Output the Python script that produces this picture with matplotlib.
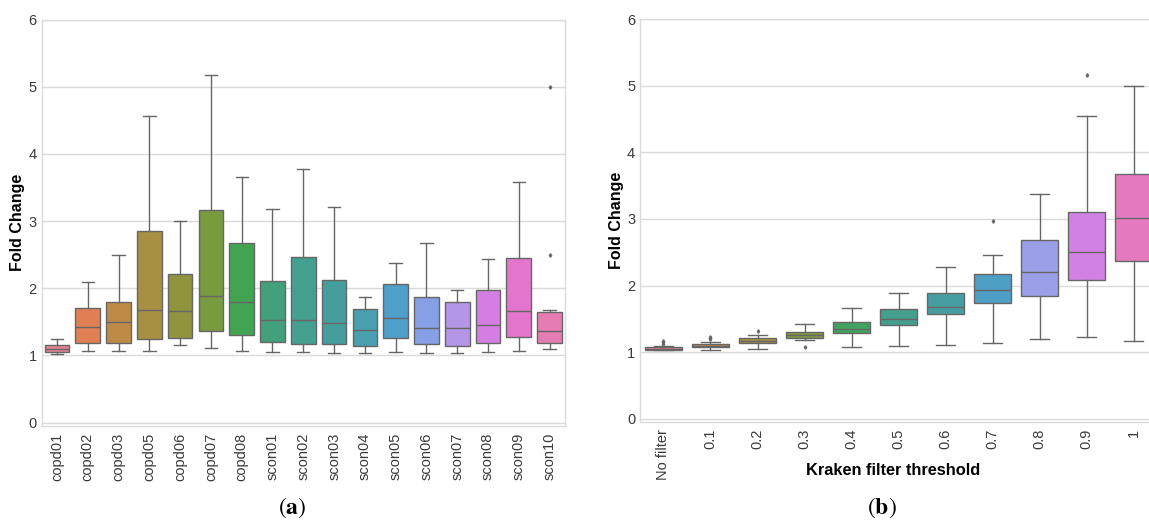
import matplotlib
matplotlib.use("Agg")
import matplotlib.pyplot as plt
import seaborn as sns

# (a) fold change per sample
samples = ["copd01", "copd02", "copd03", "copd05", "copd06", "copd07", "copd08",
           "scon01", "scon02", "scon03", "scon04", "scon05", "scon06", "scon07",
           "scon08", "scon09", "scon10"]
a_low = [1.02, 1.06, 1.06, 1.06, 1.15, 1.11, 1.06, 1.045, 1.045, 1.04, 1.03,
         1.045, 1.04, 1.04, 1.045, 1.06, 1.09]
a_q1 = [1.05, 1.19, 1.19, 1.24, 1.26, 1.36, 1.305, 1.20, 1.17, 1.17, 1.14,
        1.26, 1.17, 1.14, 1.19, 1.27, 1.18]
a_med = [1.09, 1.43, 1.50, 1.67, 1.665, 1.89, 1.79, 1.53, 1.53, 1.48, 1.38,
         1.56, 1.41, 1.41, 1.46, 1.655, 1.37]
a_q3 = [1.15, 1.70, 1.80, 2.85, 2.21, 3.16, 2.68, 2.11, 2.46, 2.12, 1.69,
        2.07, 1.87, 1.79, 1.97, 2.45, 1.645]
a_high = [1.24, 2.09, 2.50, 4.56, 3.00, 5.17, 3.66, 3.18, 3.77, 3.21, 1.87,
          2.37, 2.68, 1.97, 2.44, 3.58, 1.68]
a_out = [[], [], [], [], [], [], [], [], [], [], [], [], [], [], [], [], [5.0, 2.5]]

# (b) fold change per kraken threshold
thresholds = ["No filter", "0.1", "0.2", "0.3", "0.4", "0.5", "0.6", "0.7",
              "0.8", "0.9", "1"]
b_low = [1.025, 1.03, 1.05, 1.18, 1.07, 1.085, 1.11, 1.14, 1.20, 1.23, 1.16]
b_q1 = [1.035, 1.07, 1.13, 1.21, 1.29, 1.41, 1.57, 1.74, 1.84, 2.09, 2.37]
b_med = [1.05, 1.096, 1.167, 1.25, 1.35, 1.50, 1.68, 1.93, 2.21, 2.50, 3.01]
b_q3 = [1.07, 1.126, 1.21, 1.30, 1.45, 1.65, 1.89, 2.18, 2.69, 3.11, 3.67]
b_high = [1.096, 1.157, 1.26, 1.42, 1.67, 1.89, 2.28, 2.46, 3.37, 4.55, 5.00]
b_out = [[1.12, 1.15, 1.17], [1.19, 1.21, 1.23], [1.31], [1.07], [], [], [],
         [2.97], [], [5.16], []]

plt.rcParams["font.family"] = ["Liberation Sans", "DejaVu Sans"]
plt.rcParams["mathtext.fontset"] = "stix"

GRID = "#dadada"
LINE = "#666666"


def make_stats(low, q1, med, q3, high, out):
    return [
        {"whislo": lo, "q1": a, "med": m, "q3": b, "whishi": hi, "fliers": f}
        for lo, a, m, b, hi, f in zip(low, q1, med, q3, high, out)
    ]


def draw_box(ax, labels, stats):
    n = len(labels)
    colors = [sns.desaturate(c, 0.75) for c in sns.husl_palette(n)]
    bp = ax.bxp(
        stats, positions=range(n), widths=0.8, patch_artist=True,
        boxprops=dict(edgecolor=LINE, linewidth=1.0),
        medianprops=dict(color=LINE, linewidth=1.0),
        whiskerprops=dict(color=LINE, linewidth=1.0),
        capprops=dict(color=LINE, linewidth=1.0),
        flierprops=dict(marker="d", markersize=1.8, markerfacecolor=LINE,
                        markeredgecolor=LINE, linestyle="none"),
        capwidths=0.4,
    )
    for patch, c in zip(bp["boxes"], colors):
        patch.set_facecolor(c)
    ax.set_xlim(-0.5, n - 0.5)
    ax.set_ylim(-0.05, 6.0)
    ax.set_yticks(range(7))
    ax.set_xticks(range(n))
    ax.set_xticklabels(labels, rotation=90)
    ax.set_axisbelow(True)
    ax.yaxis.grid(True, color=GRID, linewidth=1.0)
    ax.xaxis.grid(False)
    for s in ax.spines.values():
        s.set_color(GRID)
        s.set_linewidth(1.0)
    ax.tick_params(length=0, labelsize=10.5, labelcolor="#3a3a3a")
    ax.tick_params(axis="y", pad=3.5)
    ax.tick_params(axis="x", pad=5)
    ax.set_ylabel("Fold Change", fontsize=11.5, fontweight="bold")
    ax.yaxis.set_label_coords(-0.031, 0.5)


fig = plt.figure(figsize=(11.49, 5.23), dpi=100)

ax1 = fig.add_axes([0.0362, 0.1855, 0.4555, 0.7772])
draw_box(ax1, samples, make_stats(a_low, a_q1, a_med, a_q3, a_high, a_out))

ax2 = fig.add_axes([0.557, 0.1931, 0.450, 0.770])
draw_box(ax2, thresholds, make_stats(b_low, b_q1, b_med, b_q3, b_high, b_out))
ax2.set_xlabel("Kraken filter threshold", fontsize=11.8, fontweight="bold")
ax2.xaxis.set_label_coords(0.489, -0.102)

fig.text(292 / 1149, 1 - 508 / 523, r"$(\mathbf{a})$", ha="center", va="center",
         fontsize=17)
fig.text(882 / 1149, 1 - 508 / 523, r"$(\mathbf{b})$", ha="center", va="center",
         fontsize=17)

fig.savefig("out.png", dpi=100)
